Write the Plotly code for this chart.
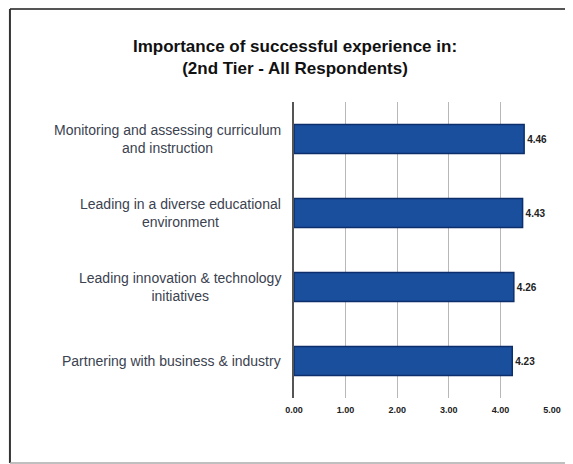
import plotly.graph_objects as go

# categories top to bottom
categories = [
    "Monitoring and assessing curriculum<br>and instruction",
    "Leading in a diverse educational<br>environment",
    "Leading innovation & technology<br>initiatives",
    "Partnering with business & industry",
]
scores = [4.46, 4.43, 4.26, 4.23]
xticks = [0, 1, 2, 3, 4, 5]
xtick_labels = ["0.00", "1.00", "2.00", "3.00", "4.00", "5.00"]

fig = go.Figure()
fig.add_trace(go.Bar(
    x=scores,
    y=categories,
    orientation="h",
    marker=dict(color="#1a4f9e", line=dict(color="#0c2f6c", width=1.5)),
    text=["<b>%.2f</b>" % v for v in scores],
    textposition="outside",
    textfont=dict(family="Arial", size=10, color="#222"),
    cliponaxis=False,
    width=0.39,
))

# category labels as centred annotations (scanned chart has centred text)
for cat in categories:
    fig.add_annotation(
        x=-0.043, xref="paper", y=cat, yref="y",
        text=cat, showarrow=False,
        xanchor="right", align="center",
        font=dict(family="Arial", size=14, color="#3b4250"),
    )

fig.update_layout(
    width=565, height=456,
    margin=dict(l=286, r=21, t=94, b=66),
    paper_bgcolor="white",
    plot_bgcolor="white",
    showlegend=False,
    title=dict(
        text="<b>Importance of successful experience in:<br>(2nd Tier - All Respondents)</b>",
        x=0.508, xanchor="center", y=0.9035, yanchor="middle",
        font=dict(family="Arial", size=17, color="#111"),
    ),
    font=dict(family="Arial"),
)

fig.update_xaxes(
    range=[0, 5],
    tickvals=xticks,
    ticktext=["<b>%s</b>" % t for t in xtick_labels],
    tickfont=dict(size=9, color="#222"),
    showgrid=True, gridcolor="#b8b8b8", gridwidth=1,
    zeroline=False, showline=False,
    ticks="", ticklabelstandoff=5,
)
fig.update_yaxes(
    autorange="reversed",
    showticklabels=False,
    showline=True, linecolor="#555", linewidth=1.5,
    ticks="",
)

# frame of the scanned chart: dark top and left, faint bottom
fig.add_shape(type="line", xref="paper", yref="paper",
              x0=-1.101, x1=1.081, y0=1.314, y1=1.314,
              line=dict(color="#555", width=2))
fig.add_shape(type="line", xref="paper", yref="paper",
              x0=-1.101, x1=-1.101, y0=1.314, y1=-0.2196,
              line=dict(color="#333", width=2))
fig.add_shape(type="line", xref="paper", yref="paper",
              x0=-1.101, x1=1.081, y0=-0.2196, y1=-0.2196,
              line=dict(color="#aaa", width=1.5))

fig.write_html("out.html")
